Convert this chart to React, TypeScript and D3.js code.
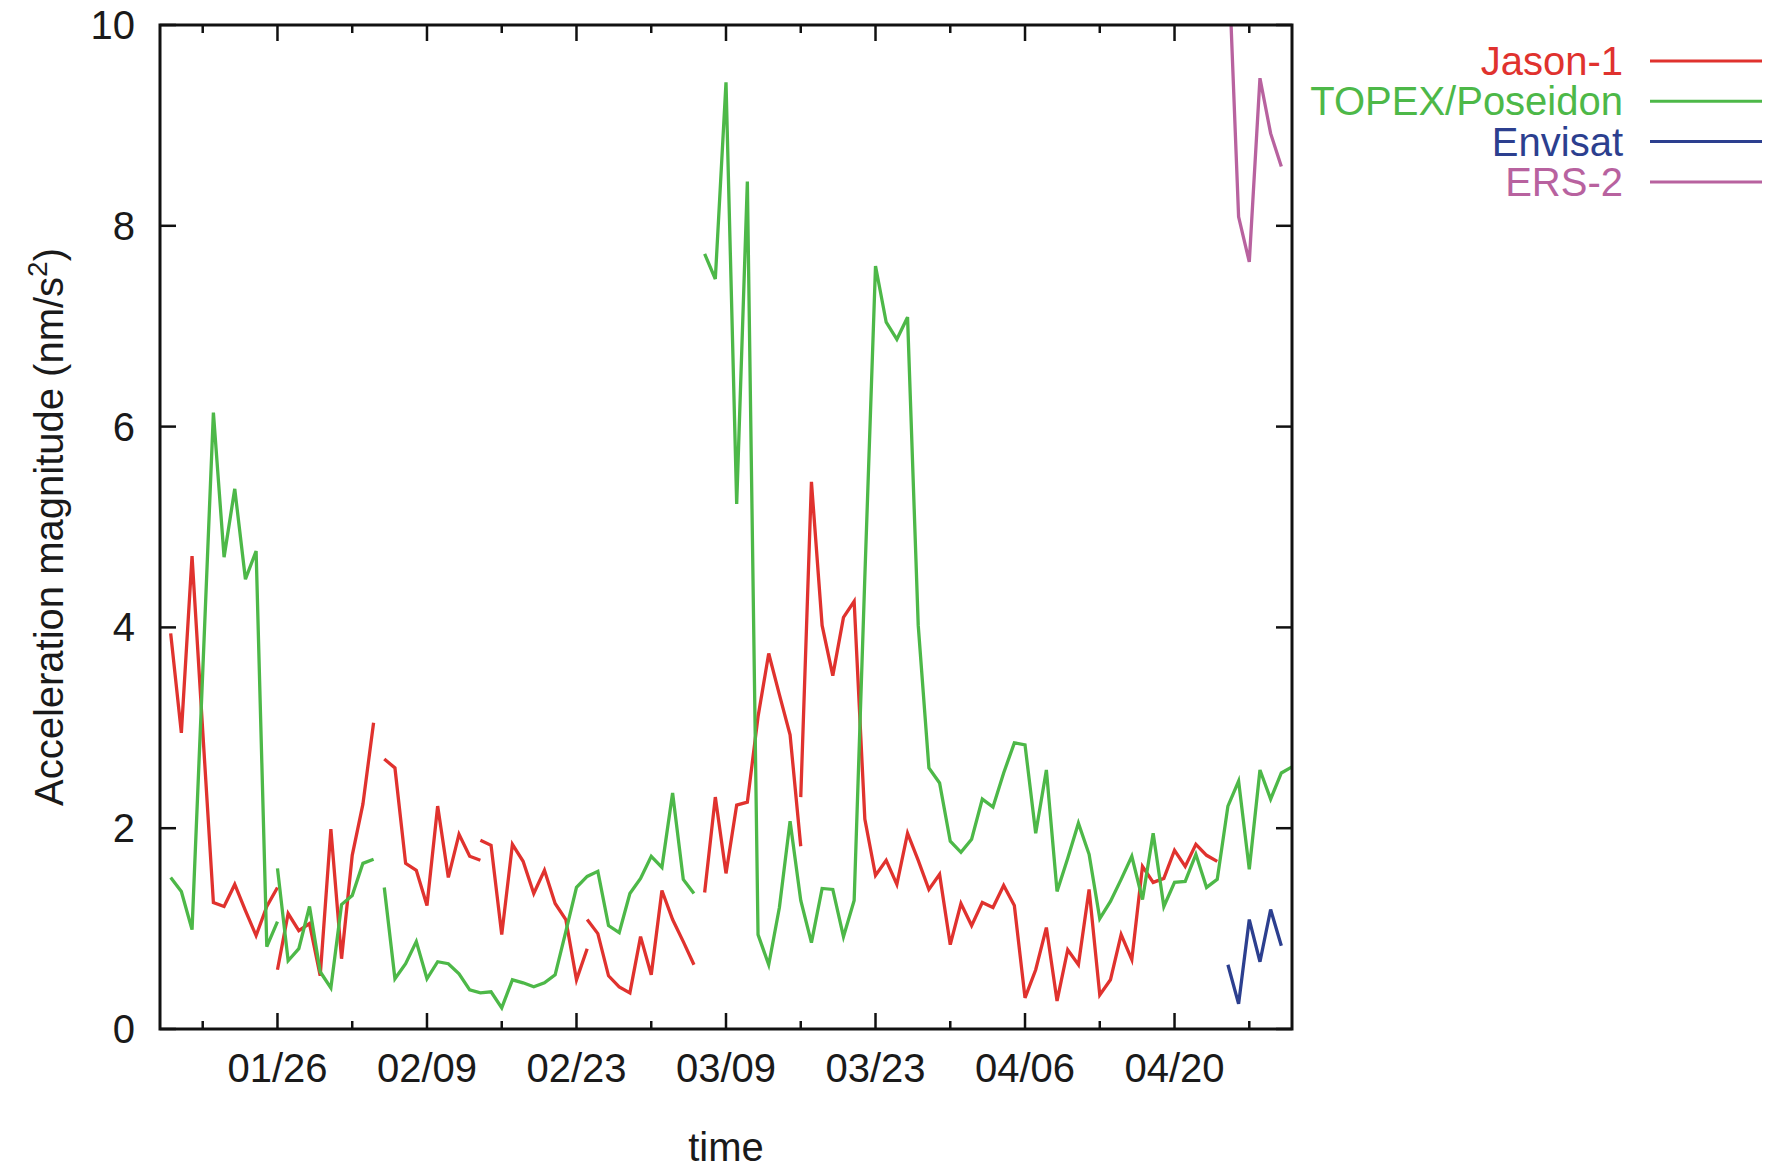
import React, { useEffect, useRef } from 'react';
import * as d3 from 'd3';

// all dates are 2003, one value per day starting at each arc's start date
const year = '2003';
const domainStart = '01/15';
const domainEnd = '05/01';

const jason1Starts = ['01/16', '01/26', '02/05', '02/14', '02/24', '03/07', '03/16'];
const jason1Values = [
    [3.94, 2.95, 4.71, 2.97, 1.26, 1.22, 1.44, 1.18, 0.93, 1.22, 1.41],
    [0.59, 1.15, 0.98, 1.05, 0.53, 1.99, 0.70, 1.73, 2.24, 3.05],
    [2.69, 2.60, 1.65, 1.58, 1.23, 2.22, 1.51, 1.94, 1.72, 1.68],
    [1.88, 1.83, 0.94, 1.84, 1.67, 1.35, 1.58, 1.25, 1.09, 0.49, 0.80],
    [1.09, 0.95, 0.53, 0.42, 0.36, 0.92, 0.54, 1.38, 1.09, 0.87, 0.64],
    [1.36, 2.31, 1.55, 2.23, 2.26, 3.11, 3.74, 3.33, 2.93, 1.82],
    [2.31, 5.45, 4.02, 3.52, 4.10, 4.26, 2.09, 1.53, 1.68, 1.44, 1.95, 1.68, 1.39, 1.54,
        0.84, 1.25, 1.03, 1.26, 1.21, 1.43, 1.23, 0.31, 0.59, 1.01, 0.28, 0.79, 0.64, 1.39,
        0.34, 0.49, 0.94, 0.69, 1.62, 1.46, 1.50, 1.78, 1.62, 1.84, 1.73, 1.67],
];

const topexStarts = ['01/16', '01/26', '02/05', '03/07'];
const topexValues = [
    [1.51, 1.37, 0.99, 3.55, 6.14, 4.70, 5.38, 4.48, 4.76, 0.82, 1.07],
    [1.60, 0.68, 0.80, 1.22, 0.57, 0.41, 1.24, 1.33, 1.65, 1.69],
    [1.41, 0.50, 0.65, 0.87, 0.50, 0.67, 0.65, 0.55, 0.39, 0.36, 0.37, 0.21, 0.49, 0.46,
        0.42, 0.46, 0.54, 0.97, 1.41, 1.52, 1.57, 1.03, 0.96, 1.35, 1.50, 1.72, 1.61, 2.35,
        1.49, 1.35],
    [7.72, 7.47, 9.43, 5.23, 8.44, 0.94, 0.64, 1.21, 2.07, 1.28, 0.86, 1.40, 1.39, 0.92,
        1.28, 4.50, 7.60, 7.04, 6.87, 7.09, 4.02, 2.60, 2.45, 1.87, 1.76, 1.89, 2.29, 2.21,
        2.55, 2.85, 2.83, 1.95, 2.58, 1.37, 1.70, 2.05, 1.74, 1.10, 1.27, 1.49, 1.72, 1.29,
        1.95, 1.22, 1.46, 1.47, 1.74, 1.41, 1.49, 2.22, 2.47, 1.59, 2.58, 2.29, 2.55, 2.61],
];

const envisatStarts = ['04/25'];
const envisatValues = [[0.64, 0.25, 1.09, 0.67, 1.19, 0.83]];

const ers2Starts = ['04/25'];
const ers2Values = [[10.8, 8.09, 7.64, 9.47, 8.92, 8.59]];

const seriesNames = ['Jason-1', 'TOPEX/Poseidon', 'Envisat', 'ERS-2'];
const seriesColors = ['#e0322e', '#4db848', '#2c3f8f', '#b8629f'];

const xTickLabels = ['01/26', '02/09', '02/23', '03/09', '03/23', '04/06', '04/20'];
const yTicks = [0, 2, 4, 6, 8, 10];

const width = 1771;
const height = 1168;
const font = '"Liberation Sans", Arial, Helvetica, sans-serif';

const App: React.FC = () => {
    const ref = useRef<SVGSVGElement>(null);

    useEffect(() => {
        document.body.style.margin = '0';
        drawChart();
        // eslint-disable-next-line
    }, []);

    const drawChart = () => {
        const svg = d3.select(ref.current);
        svg.selectAll('*').remove();

        const parse = d3.timeParse('%Y/%m/%d');
        const day = (s: string) => parse(year + '/' + s) as Date;

        const left = 160, right = 1292, top = 25, bottom = 1029;

        const x = d3.scaleTime()
            .domain([day(domainStart), day(domainEnd)])
            .range([left, right]);
        const y = d3.scaleLinear()
            .domain([0, 10])
            .range([bottom, top]);

        svg.append('defs').append('clipPath')
            .attr('id', 'plot-clip')
            .append('rect')
            .attr('x', left).attr('y', top)
            .attr('width', right - left).attr('height', bottom - top);

        // ticks (inward, mirrored on all four sides)
        const majorDates = xTickLabels.map(day);
        const minorDates = d3.timeDay.range(d3.timeDay.offset(majorDates[0], -7), day(domainEnd), 14);

        const tickGroup = svg.append('g').attr('stroke', '#111').attr('stroke-width', 2.5);
        const addXTicks = (dates: Date[], len: number) => {
            dates.forEach((d) => {
                tickGroup.append('line')
                    .attr('x1', x(d)).attr('x2', x(d))
                    .attr('y1', bottom).attr('y2', bottom - len);
                tickGroup.append('line')
                    .attr('x1', x(d)).attr('x2', x(d))
                    .attr('y1', top).attr('y2', top + len);
            });
        };
        addXTicks(majorDates, 16);
        addXTicks(minorDates, 8);

        yTicks.forEach((t) => {
            tickGroup.append('line')
                .attr('x1', left).attr('x2', left + 16)
                .attr('y1', y(t)).attr('y2', y(t));
            tickGroup.append('line')
                .attr('x1', right).attr('x2', right - 16)
                .attr('y1', y(t)).attr('y2', y(t));
        });

        // data lines
        const line = d3.line<[Date, number]>()
            .x((d) => x(d[0]))
            .y((d) => y(d[1]));

        const series = [
            { starts: jason1Starts, values: jason1Values },
            { starts: topexStarts, values: topexValues },
            { starts: envisatStarts, values: envisatValues },
            { starts: ers2Starts, values: ers2Values },
        ];

        const plot = svg.append('g').attr('clip-path', 'url(#plot-clip)');
        series.forEach((s, si) => {
            s.starts.forEach((st, k) => {
                const pts = s.values[k].map((v, i) => [d3.timeDay.offset(day(st), i), v] as [Date, number]);
                plot.append('path')
                    .attr('d', line(pts) as string)
                    .attr('fill', 'none')
                    .attr('stroke', seriesColors[si])
                    .attr('stroke-width', 3.3)
                    .attr('stroke-linejoin', 'miter');
            });
        });

        // frame
        svg.append('rect')
            .attr('x', left).attr('y', top)
            .attr('width', right - left).attr('height', bottom - top)
            .attr('fill', 'none')
            .attr('stroke', '#111')
            .attr('stroke-width', 3);

        // tick labels
        svg.append('g')
            .selectAll('text')
            .data(yTicks)
            .enter()
            .append('text')
            .attr('x', 135)
            .attr('y', (d) => y(d) + 14)
            .attr('text-anchor', 'end')
            .attr('font-family', font)
            .attr('font-size', 40)
            .attr('fill', '#1a1a1a')
            .text((d) => d);

        svg.append('g')
            .selectAll('text')
            .data(xTickLabels)
            .enter()
            .append('text')
            .attr('x', (d) => x(day(d)))
            .attr('y', 1082)
            .attr('text-anchor', 'middle')
            .attr('font-family', font)
            .attr('font-size', 40)
            .attr('fill', '#1a1a1a')
            .text((d) => d);

        // axis titles
        svg.append('text')
            .attr('x', (left + right) / 2)
            .attr('y', 1161)
            .attr('text-anchor', 'middle')
            .attr('font-family', font)
            .attr('font-size', 40)
            .attr('fill', '#1a1a1a')
            .text('time');

        const yTitle = svg.append('text')
            .attr('transform', `translate(63, ${(top + bottom) / 2}) rotate(-90)`)
            .attr('text-anchor', 'middle')
            .attr('font-family', font)
            .attr('font-size', 40)
            .attr('fill', '#1a1a1a');
        yTitle.append('tspan').text('Acceleration magnitude (nm/s');
        yTitle.append('tspan').attr('dy', -16).attr('font-size', 28).text('2');
        yTitle.append('tspan').attr('dy', 16).text(')');

        // legend
        const legend = svg.append('g')
            .selectAll('.legend')
            .data(seriesNames)
            .enter()
            .append('g')
            .attr('class', 'legend')
            .attr('transform', (d, i) => `translate(0, ${61 + i * 40.3})`);

        legend.append('text')
            .attr('x', 1623)
            .attr('y', 14)
            .attr('text-anchor', 'end')
            .attr('font-family', font)
            .attr('font-size', 40)
            .attr('fill', (d, i) => seriesColors[i])
            .text((d) => d);

        legend.append('line')
            .attr('x1', 1650).attr('x2', 1762)
            .attr('y1', 0).attr('y2', 0)
            .attr('stroke', (d, i) => seriesColors[i])
            .attr('stroke-width', 3);
    };

    return <svg ref={ref} width={width} height={height} style={{ display: 'block', background: '#fff' }}></svg>;
};

export default App;
